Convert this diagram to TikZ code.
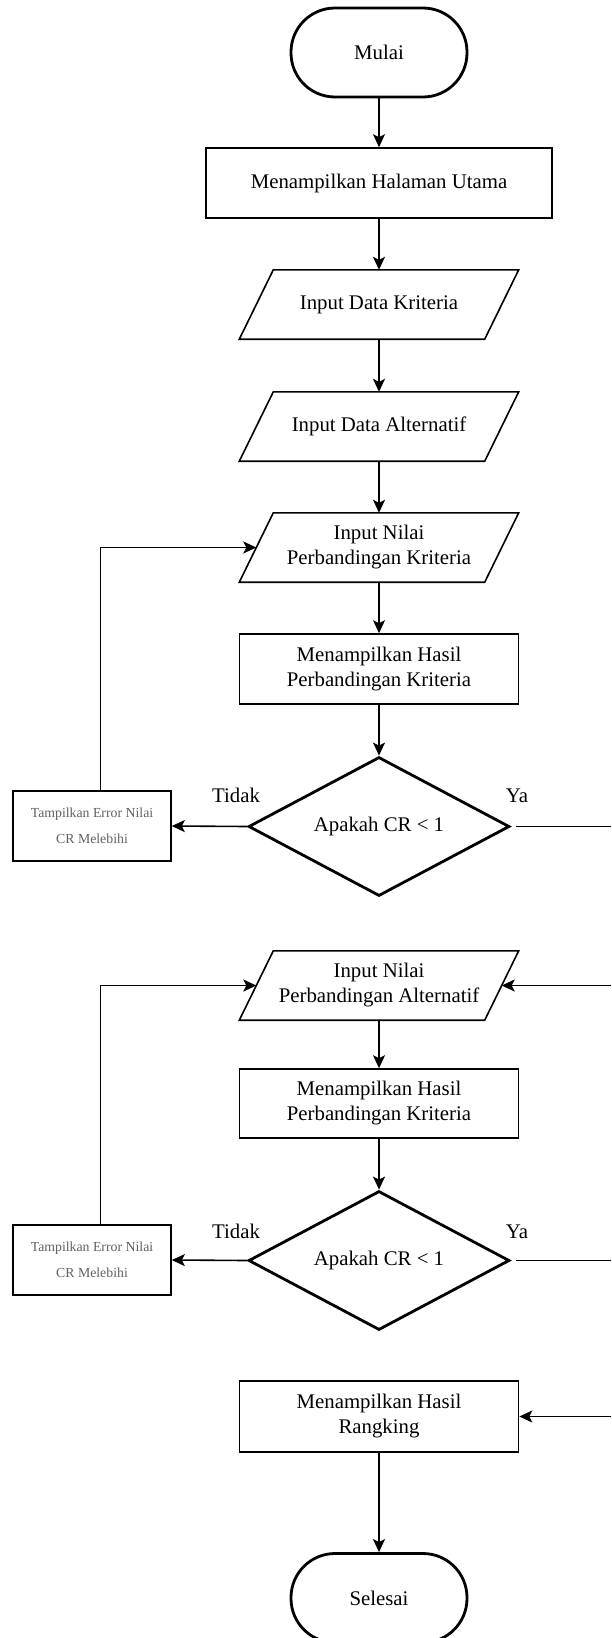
\documentclass[tikz,border=0pt]{standalone}
\usepackage{fontspec}
\setmainfont{Liberation Serif}
\usetikzlibrary{shapes.geometric, arrows.meta}

\begin{document}
\begin{tikzpicture}[x=1pt, y=-1pt,
    font=\fontsize{20.8pt}{25pt}\selectfont,
    line/.style={line width=1.6pt},
    arrow/.style={line width=1.6pt, -{Stealth[length=13pt, width=12pt, inset=3pt]}},
    terminal/.style={draw, line width=2.8pt, rounded corners=44pt, minimum width=176pt, minimum height=89pt},
    process/.style={draw, line width=1.6pt, minimum width=279pt, minimum height=70pt, align=center, inner sep=0pt},
    inout/.style={minimum width=245pt, minimum height=69pt, align=center, inner sep=0pt},
    decision/.style={draw, diamond, aspect=1.88, line width=2.8pt, minimum width=261pt, minimum height=139pt, inner sep=0pt},
    errbox/.style={draw, line width=1.6pt, minimum width=158pt, minimum height=70pt, align=center, inner sep=0pt,
        text=errgray, font=\fontsize{13.8pt}{26pt}\selectfont}]
    \definecolor{errgray}{RGB}{96, 96, 96}

    \def\mid{379}
    \def\skew{17pt}

    \useasboundingbox (0,0) rectangle (611,1638);
    \coordinate (edge) at (611,0);

    % Main column
    \node[terminal] (start) at (\mid,52.5) {Mulai};
    \node[process, minimum width=346pt] (home) at (\mid,183) {Menampilkan Halaman Utama};
    \node[inout] (inkrit) at (\mid,304.5) {Input Data Kriteria};
    \node[inout] (inalt) at (\mid,426.5) {Input Data Alternatif};
    \node[inout] (nilkrit) at (\mid,547.5) {Input Nilai\\Perbandingan Kriteria};
    \node[process] (hasilkrit) at (\mid,669) {Menampilkan Hasil\\Perbandingan Kriteria};
    \node[decision] (cekkrit) at (\mid,826.5) {Apakah CR < 1};
    \node[errbox] (errkrit) at (92,826) {Tampilkan Error Nilai\\CR Melebihi};

    \node[inout] (nilalt) at (\mid,985.5) {Input Nilai\\Perbandingan Alternatif};
    \node[process, minimum height=69pt] (hasilalt) at (\mid,1103.5) {Menampilkan Hasil\\Perbandingan Kriteria};
    \node[decision] (cekalt) at (\mid,1260.5) {Apakah CR < 1};
    \node[errbox] (erralt) at (92,1260) {Tampilkan Error Nilai\\CR Melebihi};

    \node[process, minimum height=71pt] (rank) at (\mid,1416.5) {Menampilkan Hasil\\Rangking};
    \node[terminal] (stop) at (\mid,1598) {Selesai};

    % Slanted outline of the input boxes
    \foreach \n in {inkrit, inalt, nilkrit, nilalt}
        \draw[line] ([xshift=\skew]\n.north west) -- ([xshift=\skew]\n.north east)
            -- ([xshift=-\skew]\n.south east) -- ([xshift=-\skew]\n.south west) -- cycle;

    % Labels of the decisions
    \node at ([shift={(-11pt,31pt)}]cekkrit.west) {Tidak};
    \node at ([shift={(6pt,31pt)}]cekkrit.east) {Ya};
    \node at ([shift={(-11pt,29pt)}]cekalt.west) {Tidak};
    \node at ([shift={(6pt,29pt)}]cekalt.east) {Ya};

    % Flow
    \draw[arrow] (start) -- (home);
    \draw[arrow] (home) -- (inkrit);
    \draw[arrow] (inkrit) -- (inalt);
    \draw[arrow] (inalt) -- (nilkrit);
    \draw[arrow] (nilkrit) -- (hasilkrit);
    \draw[arrow] (hasilkrit) -- (cekkrit);
    \draw[arrow] (cekkrit.west) -- (errkrit.east);
    \draw[arrow] ([xshift=8.5pt]errkrit.north) |- (nilkrit.west);
    \draw[line, shorten <=5pt] (cekkrit.east) -- (cekkrit.east -| edge);
    \draw[arrow] (nilalt.east -| edge) -- (nilalt.east);

    \draw[arrow] (nilalt) -- (hasilalt);
    \draw[arrow] (hasilalt) -- (cekalt);
    \draw[arrow] (cekalt.west) -- (erralt.east);
    \draw[arrow] ([xshift=8.5pt]erralt.north) |- (nilalt.west);
    \draw[line, shorten <=5pt] (cekalt.east) -- (cekalt.east -| edge);
    \draw[arrow] (rank.east -| edge) -- (rank.east);
    \draw[arrow] (rank) -- (stop);
\end{tikzpicture}
\end{document}
